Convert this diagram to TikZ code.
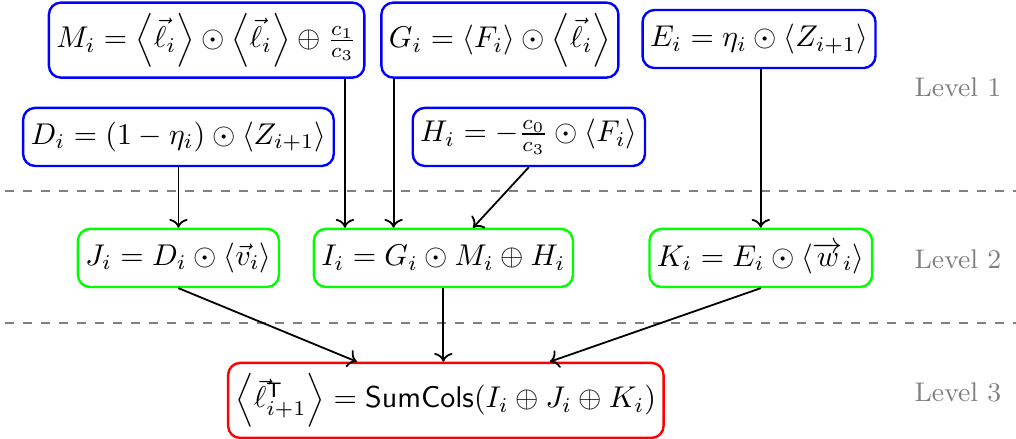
\documentclass[tikz,border=0pt]{standalone}
\usepackage{amsmath}
\usepackage{amssymb}
\usepackage{tikz}
\usetikzlibrary{arrows.meta}

\begin{document}
\begin{tikzpicture}[
    box/.style={rectangle, rounded corners, thick, inner xsep=2.5pt, inner ysep=3.5pt, minimum height=0.68cm, anchor=center},
    lvone/.style={box, draw=blue},
    lvtwo/.style={box, draw=green},
    lvthree/.style={box, draw=red, minimum height=0.85cm},
    arr/.style={->, semithick, black},
    sep/.style={gray, thick, dashed},
    lvl/.style={gray, font=\small}
]
\useasboundingbox (0,0) rectangle (11.9,-5.14);

% Level 1
\node[lvone, minimum height=0.82cm] (M) at (2.42,-0.47) {$M_i = \left\langle \vec{\ell}_i \right\rangle \odot \left\langle \vec{\ell}_i \right\rangle \oplus \frac{c_1}{c_3}$};
\node[lvone, minimum height=0.82cm] (G) at (5.855,-0.47) {$G_i = \langle F_i \rangle \odot \left\langle \vec{\ell}_i \right\rangle$};
\node[lvone] (E) at (8.89,-0.457) {$E_i = \eta_i \odot \langle Z_{i+1} \rangle$};
\node[lvone] (D) at (2.09,-1.604) {$D_i = (1 - \eta_i) \odot \langle Z_{i+1} \rangle$};
\node[lvone] (H) at (6.194,-1.604) {$H_i = -\frac{c_0}{c_3} \odot \langle F_i \rangle$};

% Level 2
\node[lvtwo] (J) at (2.09,-3.021) {$J_i = D_i \odot \langle \vec{v}_i \rangle$};
\node[lvtwo] (I) at (5.193,-3.021) {$I_i = G_i \odot M_i \oplus H_i$};
\node[lvtwo] (K) at (8.911,-3.021) {$K_i = E_i \odot \langle \overrightarrow{w}_i \rangle$};

% Level 3
\node[lvthree] (S) at (5.222,-4.69) {$\left\langle \vec{\ell}^{\mathsf{T}}_{i+1} \right\rangle = \mathsf{SumCols}(I_i \oplus J_i \oplus K_i)$};

% separators
\draw[sep] (0.06,-2.237) -- (11.9,-2.237);
\draw[sep] (0.06,-3.782) -- (11.9,-3.782);

% level labels
\node[lvl] (l1) at (11.22,-1.019) {Level 1};
\node[lvl] (l2) at (11.22,-3.033) {Level 2};
\node[lvl] (l3) at (11.22,-4.602) {Level 3};

% connectors
\coordinate (mi) at (4.04,0);
\coordinate (gi) at (4.61,0);
\coordinate (hi) at (5.54,0);
\coordinate (sj) at (4.18,0);
\coordinate (sk) at (6.44,0);

\draw[arr] (D.south) -- (J.north);
\draw[arr] (M.south -| mi) -- (I.north -| mi);
\draw[arr] (G.south -| gi) -- (I.north -| gi);
\draw[arr] (H.south) -- (I.north -| hi);
\draw[arr] (E.south -| K.north) -- (K.north);

\draw[arr] (J.south) -- (S.north -| sj);
\draw[arr] (I.south) -- (S.north -| I.south);
\draw[arr] (K.south) -- (S.north -| sk);

\end{tikzpicture}
\end{document}
